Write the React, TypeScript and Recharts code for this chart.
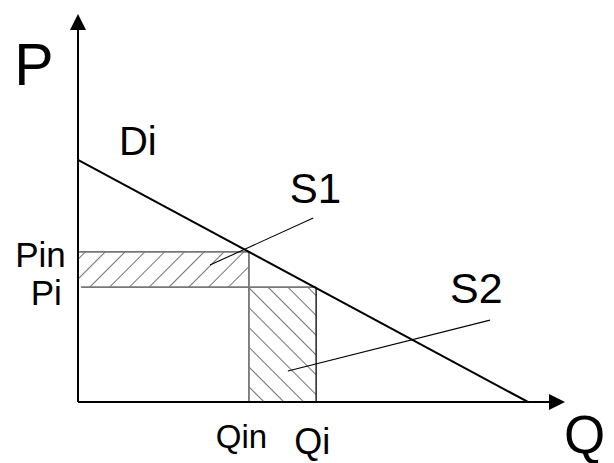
import React from "react";
import {
  ComposedChart,
  Line,
  XAxis,
  YAxis,
  ReferenceArea,
  ReferenceLine,
  ReferenceDot,
} from "recharts";

// Demand curve Di (quantity Q, price P)
const demand = [
  { q: 0, p: 62.4 },
  { q: 92.4, p: 0 },
];

// Key levels
const Qin = 35.1;
const Qi = 48.9;
const Pin = 38.7;
const Pi = 29.6;
const axisMax = { q: 100, p: 100 };

// Pointer lines from labels S1 / S2 to the hatched areas
const s1Pointer = [
  { x: 48.3, y: 47.4 },
  { x: 27.1, y: 35.3 },
];
const s2Pointer = [
  { x: 84.6, y: 21.1 },
  { x: 43.1, y: 8.0 },
];

// Text labels (anchor in data space)
const labels = [
  { text: "P", q: -13.1, p: 81.7, size: 59 },
  { text: "Di", q: 8.4, p: 63.7, size: 40 },
  { text: "S1", q: 43.5, p: 51.3, size: 42 },
  { text: "Pin", q: -12.9, p: 34.8, size: 35 },
  { text: "Pi", q: -9.7, p: 25, size: 35 },
  { text: "S2", q: 76.4, p: 25.5, size: 43 },
  { text: "Qin", q: 28.3, p: -11.9, size: 33 },
  { text: "Qi", q: 44.4, p: -13.4, size: 36 },
  { text: "Q", q: 99.8, p: -13.2, size: 53 },
];

const FONT = "Arial, 'Liberation Sans', sans-serif";

const UpArrow = (props: any) => {
  const { cx, cy } = props;
  return (
    <polygon
      points={`${cx},${cy} ${cx - 8},${cy + 16} ${cx + 8},${cy + 16}`}
      fill="#000"
    />
  );
};

const RightArrow = (props: any) => {
  const { cx, cy } = props;
  return (
    <polygon
      points={`${cx},${cy} ${cx - 16},${cy - 8} ${cx - 16},${cy + 8}`}
      fill="#000"
    />
  );
};

const makeText = (text: string, size: number) => (props: any) => (
  <text
    x={props.cx}
    y={props.cy}
    fontSize={size}
    fontFamily={FONT}
    fill="#000"
    textAnchor="start"
  >
    {text}
  </text>
);

export default function App() {
  return (
    <div style={{ position: "absolute", left: 0, top: 0, background: "#fff" }}>
      <ComposedChart
        width={614}
        height={463}
        margin={{ top: 14, right: 49, bottom: 61, left: 78 }}
      >
        <defs>
          <pattern
            id="hatchA"
            width={14}
            height={10}
            patternUnits="userSpaceOnUse"
            patternTransform="rotate(45)"
          >
            <line x1={0} y1={0} x2={0} y2={10} stroke="#000" strokeWidth={1.1} />
          </pattern>
          <pattern
            id="hatchB"
            width={14}
            height={10}
            patternUnits="userSpaceOnUse"
            patternTransform="rotate(-45)"
          >
            <line x1={0} y1={0} x2={0} y2={10} stroke="#000" strokeWidth={1.1} />
          </pattern>
        </defs>
        <XAxis
          type="number"
          dataKey="q"
          domain={[0, axisMax.q]}
          allowDataOverflow
          hide
        />
        <YAxis
          type="number"
          dataKey="p"
          domain={[0, axisMax.p]}
          allowDataOverflow
          hide
        />

        <ReferenceArea
          x1={0}
          x2={Qin}
          y1={Pi}
          y2={Pin}
          fill="url(#hatchA)"
          fillOpacity={1}
          stroke="none"
        />
        <ReferenceArea
          x1={Qin}
          x2={Qi}
          y1={0}
          y2={Pi}
          fill="url(#hatchB)"
          fillOpacity={1}
          stroke="none"
        />

        {/* rectangle edges */}
        <ReferenceLine
          segment={[{ x: 0, y: Pin }, { x: Qin, y: Pin }]}
          stroke="#777"
          strokeWidth={1.8}
        />
        <ReferenceLine
          segment={[{ x: 0.6, y: Pi }, { x: Qi, y: Pi }]}
          stroke="#777"
          strokeWidth={1.8}
        />
        <ReferenceLine
          segment={[{ x: Qin, y: 0 }, { x: Qin, y: Pin }]}
          stroke="#777"
          strokeWidth={1.8}
        />
        <ReferenceLine
          segment={[{ x: Qi, y: 0 }, { x: Qi, y: Pi }]}
          stroke="#222"
          strokeWidth={1.5}
        />

        {/* pointer lines */}
        <ReferenceLine segment={s1Pointer} stroke="#000" strokeWidth={1.1} />
        <ReferenceLine segment={s2Pointer} stroke="#000" strokeWidth={1.1} />

        {/* axes */}
        <ReferenceLine
          segment={[{ x: 0, y: 0 }, { x: 0, y: axisMax.p - 3 }]}
          stroke="#000"
          strokeWidth={2}
        />
        <ReferenceLine
          segment={[{ x: 0, y: 0 }, { x: axisMax.q - 2, y: 0 }]}
          stroke="#000"
          strokeWidth={2}
        />
        <ReferenceDot
          x={0}
          y={axisMax.p}
          r={1}
          ifOverflow="visible"
          shape={UpArrow}
        />
        <ReferenceDot
          x={axisMax.q}
          y={0}
          r={1}
          ifOverflow="visible"
          shape={RightArrow}
        />

        <Line
          data={demand}
          dataKey="p"
          type="linear"
          stroke="#000"
          strokeWidth={2}
          dot={false}
          activeDot={false}
          isAnimationActive={false}
        />

        {labels.map((l) => (
          <ReferenceDot
            key={l.text}
            x={l.q}
            y={l.p}
            r={1}
            ifOverflow="visible"
            shape={makeText(l.text, l.size)}
          />
        ))}
      </ComposedChart>
    </div>
  );
}
